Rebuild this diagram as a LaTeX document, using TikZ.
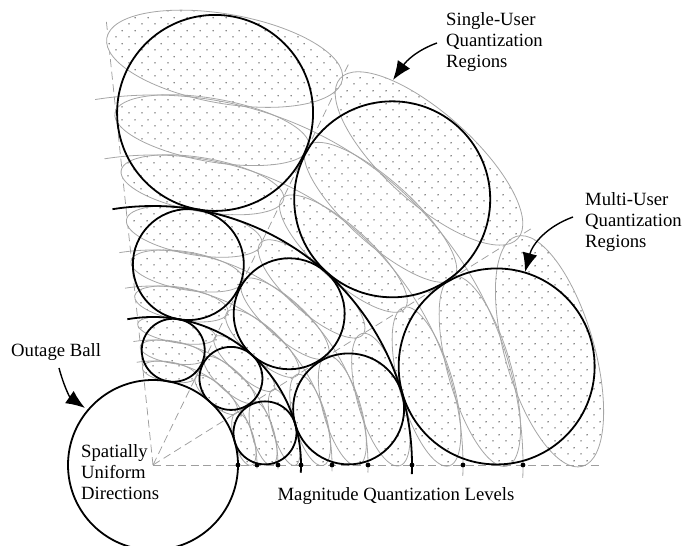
\documentclass[tikz,border=0pt]{standalone}
\usepackage{fontspec}
\setmainfont{Liberation Serif}
\usetikzlibrary{patterns,arrows.meta}
\pgfdeclarepatternformonly{sdots}{\pgfqpoint{0pt}{0pt}}{\pgfqpoint{12.5pt}{12.6pt}}{\pgfqpoint{12.5pt}{12.6pt}}{%
  \pgfpathcircle{\pgfqpoint{3.125pt}{3.15pt}}{0.8pt}%
  \pgfpathcircle{\pgfqpoint{9.375pt}{9.45pt}}{0.8pt}%
  \pgfusepath{fill}}
\begin{document}
\begin{tikzpicture}[x=1pt,y=1pt,
  ray/.style={draw=black!38, dash pattern=on 8pt off 4.5pt, line width=0.75pt},
  sreg/.style={preaction={fill=white}, pattern=sdots, pattern color=black!62},
  sline/.style={draw=black!35, line width=0.8pt},
  bold/.style={draw=black, line width=1.8pt},
  lbl/.style={font=\fontsize{18.7}{21}\selectfont, align=left, inner sep=0pt},
  arr/.style={line width=1.4pt, -{Latex[length=19pt,width=15pt]}}]
\useasboundingbox (0,0) rectangle (694,546);
\coordinate (O) at (153,81);
\begin{scope}[shift={(O)}]
  % sector rays
  \foreach \t in {32,64,96} \draw[ray] (0,0) -- (\t:448);
  % single-user region fills
  \foreach \ri/\ro in {85/104,104/125,125/148,148/179,179/215,215/259,259/310,310/370,370/455}{
    \foreach \t in {16,48,80}{
      \pgfmathsetmacro\Rm{(\ri+\ro)/2}
      \pgfmathsetmacro\bb{(\ro-\ri)/2*1.05}
      \pgfmathsetmacro\aa{0.29*\Rm}
      \path[sreg, shift={(\t:\Rm)}, rotate=\t] (0,0) ellipse [x radius=\bb, y radius=\aa];
    }
  }
  % outlines
  \foreach \ri/\ro in {85/104,104/125,125/148,148/179,179/215,215/259,259/310,310/370,370/455}{
    \foreach \t in {16,48,80}{
      \pgfmathsetmacro\Rm{(\ri+\ro)/2}
      \pgfmathsetmacro\bb{(\ro-\ri)/2*1.05}
      \pgfmathsetmacro\aa{0.29*\Rm}
      \draw[sline, shift={(\t:\Rm)}, rotate=\t] (0,0) ellipse [x radius=\bb, y radius=\aa];
    }
  }
  % axis
  \draw[ray] (0,0) -- (447,0);
  % fine magnitude levels
  \foreach \r in {104,125,179,215,310,370}
    \draw[sline] (-2:\r) arc[start angle=-2, end angle=99, radius=\r];
  % multi-user regions
  \foreach \R/\r in {116.5/31.5, 203.5/55.5, 357.5/98}
    \foreach \t in {16,48,80}
      \draw[bold] (\t:\R) circle (\r);
  \draw[bold] (-3:148) arc[start angle=-3, end angle=100, radius=148];
  \draw[bold] (-2:259) arc[start angle=-2, end angle=99, radius=259];
  % outage ball
  \draw[bold] (0,0) circle (85);
  % level dots
  \foreach \r in {85,104,125,148,179,215,259,310,370}
    \fill (\r,0) circle (2.4);
\end{scope}
% labels
\node[lbl, anchor=west] (su) at (446,504) {Single-User\\Quantization\\Regions};
\node[lbl, anchor=west] (mu) at (585,324) {Multi-User\\Quantization\\Regions};
\node[lbl, anchor=west] (ob) at (11,194) {Outage Ball};
\node[lbl, anchor=west] (sd) at (81,74) {Spatially\\Uniform\\Directions};
\node[lbl] (mq) at (396,50) {Magnitude Quantization Levels};
% arrows
\coordinate (sA) at (437,503); \coordinate (sT) at (393,466);
\coordinate (mA) at (573,329); \coordinate (mT) at (525,274);
\coordinate (oA) at (59,178);  \coordinate (oT) at (85,138);
\draw[arr] (sA) to[out=200, in=55] (sT);
\draw[arr] (mA) to[out=200, in=75] (mT);
\draw[arr] (oA) to[out=-75, in=145] (oT);
\end{tikzpicture}
\end{document}
